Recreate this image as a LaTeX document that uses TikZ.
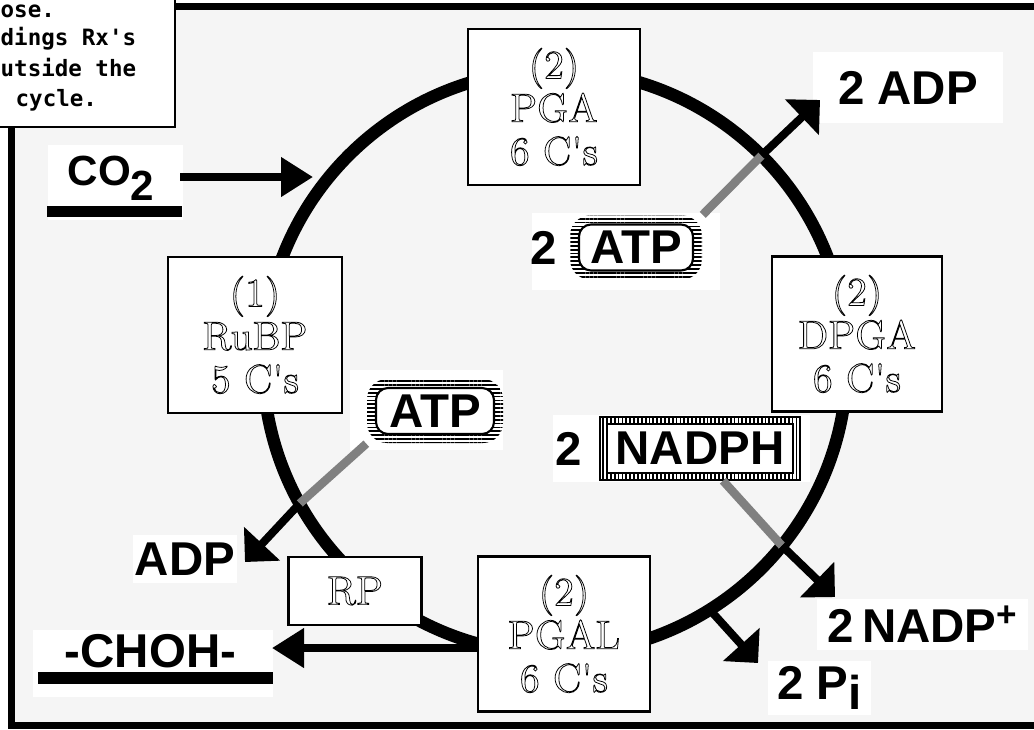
\documentclass[tikz,border=0pt]{standalone}
\usepackage{fontspec}
\usetikzlibrary{positioning,arrows.meta,patterns.meta}
\newfontfamily\lblfont{Liberation Sans}
\newfontfamily\notefont{DejaVu Sans Mono}
\definecolor{bggray}{RGB}{245,245,245}
\definecolor{arrgray}{RGB}{128,128,128}
%Hohlschrift fuer die Kaesten
\newcommand{\hohl}[1]{\special{pdf:literal direct 1 Tr 0.22 w}#1\special{pdf:literal direct 0 Tr}}

\begin{document}
\begin{tikzpicture}[
  stoff/.style={draw, fill=white, line width=0.75pt, minimum width=1.72cm,
    minimum height=1.56cm, align=center, inner sep=0pt,
    font=\fontsize{11.5}{12.3}\selectfont},
  lbl/.style={inner sep=0pt, font=\lblfont\bfseries\fontsize{13.5}{16}\selectfont},
  lblbg/.style={lbl, fill=white},
  notiz/.style={inner sep=0pt, anchor=base west, font=\notefont\bfseries\fontsize{6.4}{7}\selectfont},
  pfeil/.style={line width=0.08cm, -{Triangle[length=0.25cm,width=0.48cm]}},
  hpfeil/.style={line width=0.075cm, -{Triangle[length=0.32cm,width=0.38cm]}},
  grau/.style={line width=0.085cm, draw=arrgray},
  atpring/.style={lbl, fill=white, rounded corners=0.2cm, minimum height=0.64cm,
    path picture={
      \fill[pattern={Lines[angle=0,distance=1.1pt,line width=0.5pt]}, even odd rule]
        (path picture bounding box.south west) rectangle (path picture bounding box.north east)
        [rounded corners=0.12cm]
        ([shift={(0.09,0.09)}]path picture bounding box.south west)
        rectangle ([shift={(-0.09,-0.09)}]path picture bounding box.north east);
      \draw[line width=0.6pt, rounded corners=0.12cm]
        ([shift={(0.09,0.09)}]path picture bounding box.south west)
        rectangle ([shift={(-0.09,-0.09)}]path picture bounding box.north east);
    }},
  nadphring/.style={lbl, fill=white, draw, line width=0.4pt,
    minimum width=2.00cm, minimum height=0.63cm,
    path picture={
      \fill[pattern={Lines[angle=90,distance=1.1pt,line width=0.5pt]}, even odd rule]
        (path picture bounding box.south west) rectangle (path picture bounding box.north east)
        ([shift={(0.07,0.07)}]path picture bounding box.south west)
        rectangle ([shift={(-0.07,-0.07)}]path picture bounding box.north east);
      \draw[line width=0.6pt]
        ([shift={(0.07,0.07)}]path picture bounding box.south west)
        rectangle ([shift={(-0.07,-0.07)}]path picture bounding box.north east);
    }},
]
\useasboundingbox (0,0) rectangle (10.34,7.29);
%Rahmen
\draw[fill=bggray, line width=0.07cm] (0.115,0.035) rectangle (10.6,7.225);
\draw[fill=white, line width=0.6pt] (-0.3,6.02) rectangle (1.75,7.6);
\node[notiz] (z1) at (0,7.12) {ose.};
\node[notiz] (z2) at (0,6.84) {dings Rx\textquotesingle s};
\node[notiz] (z3) at (0,6.53) {utside the};
\node[notiz] (z4) at (0.15,6.23) {cycle.};

%Kreis
\node[circle, draw, line width=0.125cm, minimum size=5.84cm, inner sep=0pt,
  outer sep=0pt] (cyc) at (5.55,3.67) {};

%Kaesten
\node[stoff] (pga) at (5.54,6.22) {\hohl{(2)}\\\hohl{PGA}\\\hohl{6 C\textquotesingle s}};
\node[stoff, minimum width=1.74cm] (rubp) at (2.55,3.94) {\hohl{(1)}\\\hohl{RuBP}\\\hohl{5 C\textquotesingle s}};
\node[stoff, minimum width=1.70cm, minimum height=1.55cm] (dpga) at (8.57,3.95) {\hohl{(2)}\\\hohl{DPGA}\\\hohl{6 C\textquotesingle s}};
\node[stoff, minimum height=1.55cm] (pgal) at (5.64,0.95) {\hohl{(2)}\\\hohl{PGAL}\\\hohl{6 C\textquotesingle s}};
\node[stoff, minimum width=1.33cm, minimum height=0.68cm] (rp) at (3.55,1.38) {\hohl{RP}};

%Beschriftungen
\fill[white] (5.32,4.39) rectangle (7.20,5.16);
\node[atpring, minimum width=1.32cm] (atp2) at (6.36,4.815) {ATP};
\node[lbl, left=0.12cm of atp2] (zwei1) {2};
\fill[white] (3.50,2.79) rectangle (5.03,3.59);
\node[atpring, minimum width=1.36cm] (atp1) at (4.35,3.18) {ATP};
\fill[white] (5.53,2.47) rectangle (8.10,3.14);
\node[nadphring] (nadph) at (7.00,2.805) {NADPH};
\node[lbl, left=0.17cm of nadph] (zwei2) {2};

\node[lblbg, minimum width=1.90cm, minimum height=0.71cm] (adp2) at (9.08,6.415) {2 ADP};
\node[lblbg, minimum width=1.04cm, minimum height=0.48cm] (adp1) at (1.85,1.70) {ADP};
\node[lblbg, minimum width=2.11cm, minimum height=0.51cm] (nadp) at (9.225,1.045)
  {2\,NADP\raisebox{0.16cm}{\fontsize{10}{10}\selectfont +}};
\node[lblbg, minimum width=1.03cm, minimum height=0.54cm] (pi) at (8.195,0.41)
  {2 P\raisebox{-0.1cm}{i}};

\fill[white] (0.48,5.09) rectangle (1.83,5.84);
\node[lbl, anchor=base west, font=\lblfont\bfseries\fontsize{12}{14}\selectfont]
  (co2) at (0.67,5.44) {CO\raisebox{-0.15cm}{2}};
\fill (0.47,5.12) rectangle (1.82,5.23);
\fill[white] (0.33,0.32) rectangle (2.73,0.99);
\node[lbl, anchor=base] (choh) at (1.505,0.62) {-CHOH-};
\fill (0.38,0.45) rectangle (2.73,0.57);

%Pfeile
\coordinate (co2aus) at (1.80,5.52);
\coordinate (co2ein) at (3.13,5.52);
\coordinate (chohtip) at (2.72,0.81);
\coordinate (adp2tip) at (8.20,6.29);
\coordinate (adp1tip) at (2.45,1.67);
\coordinate (nadptip) at (8.35,1.32);
\coordinate (pitip) at (7.58,0.66);

\draw[hpfeil] (co2aus) -- (co2ein);
\draw[hpfeil] ([yshift=-0.14cm]pgal.west) -- (chohtip);
\draw[grau] (atp2.north east) -- (cyc.45);
\draw[pfeil] (cyc.45) -- (adp2tip);
\draw[grau] (atp1.south west) -- (cyc.209.6);
\draw[pfeil] (cyc.209.6) -- (adp1tip);
\draw[grau] ([xshift=0.23cm]nadph.south) -- (cyc.321.5);
\draw[pfeil] (cyc.321.5) -- (nadptip);
\draw[pfeil] (cyc.302) -- (pitip);
\end{tikzpicture}
\end{document}
